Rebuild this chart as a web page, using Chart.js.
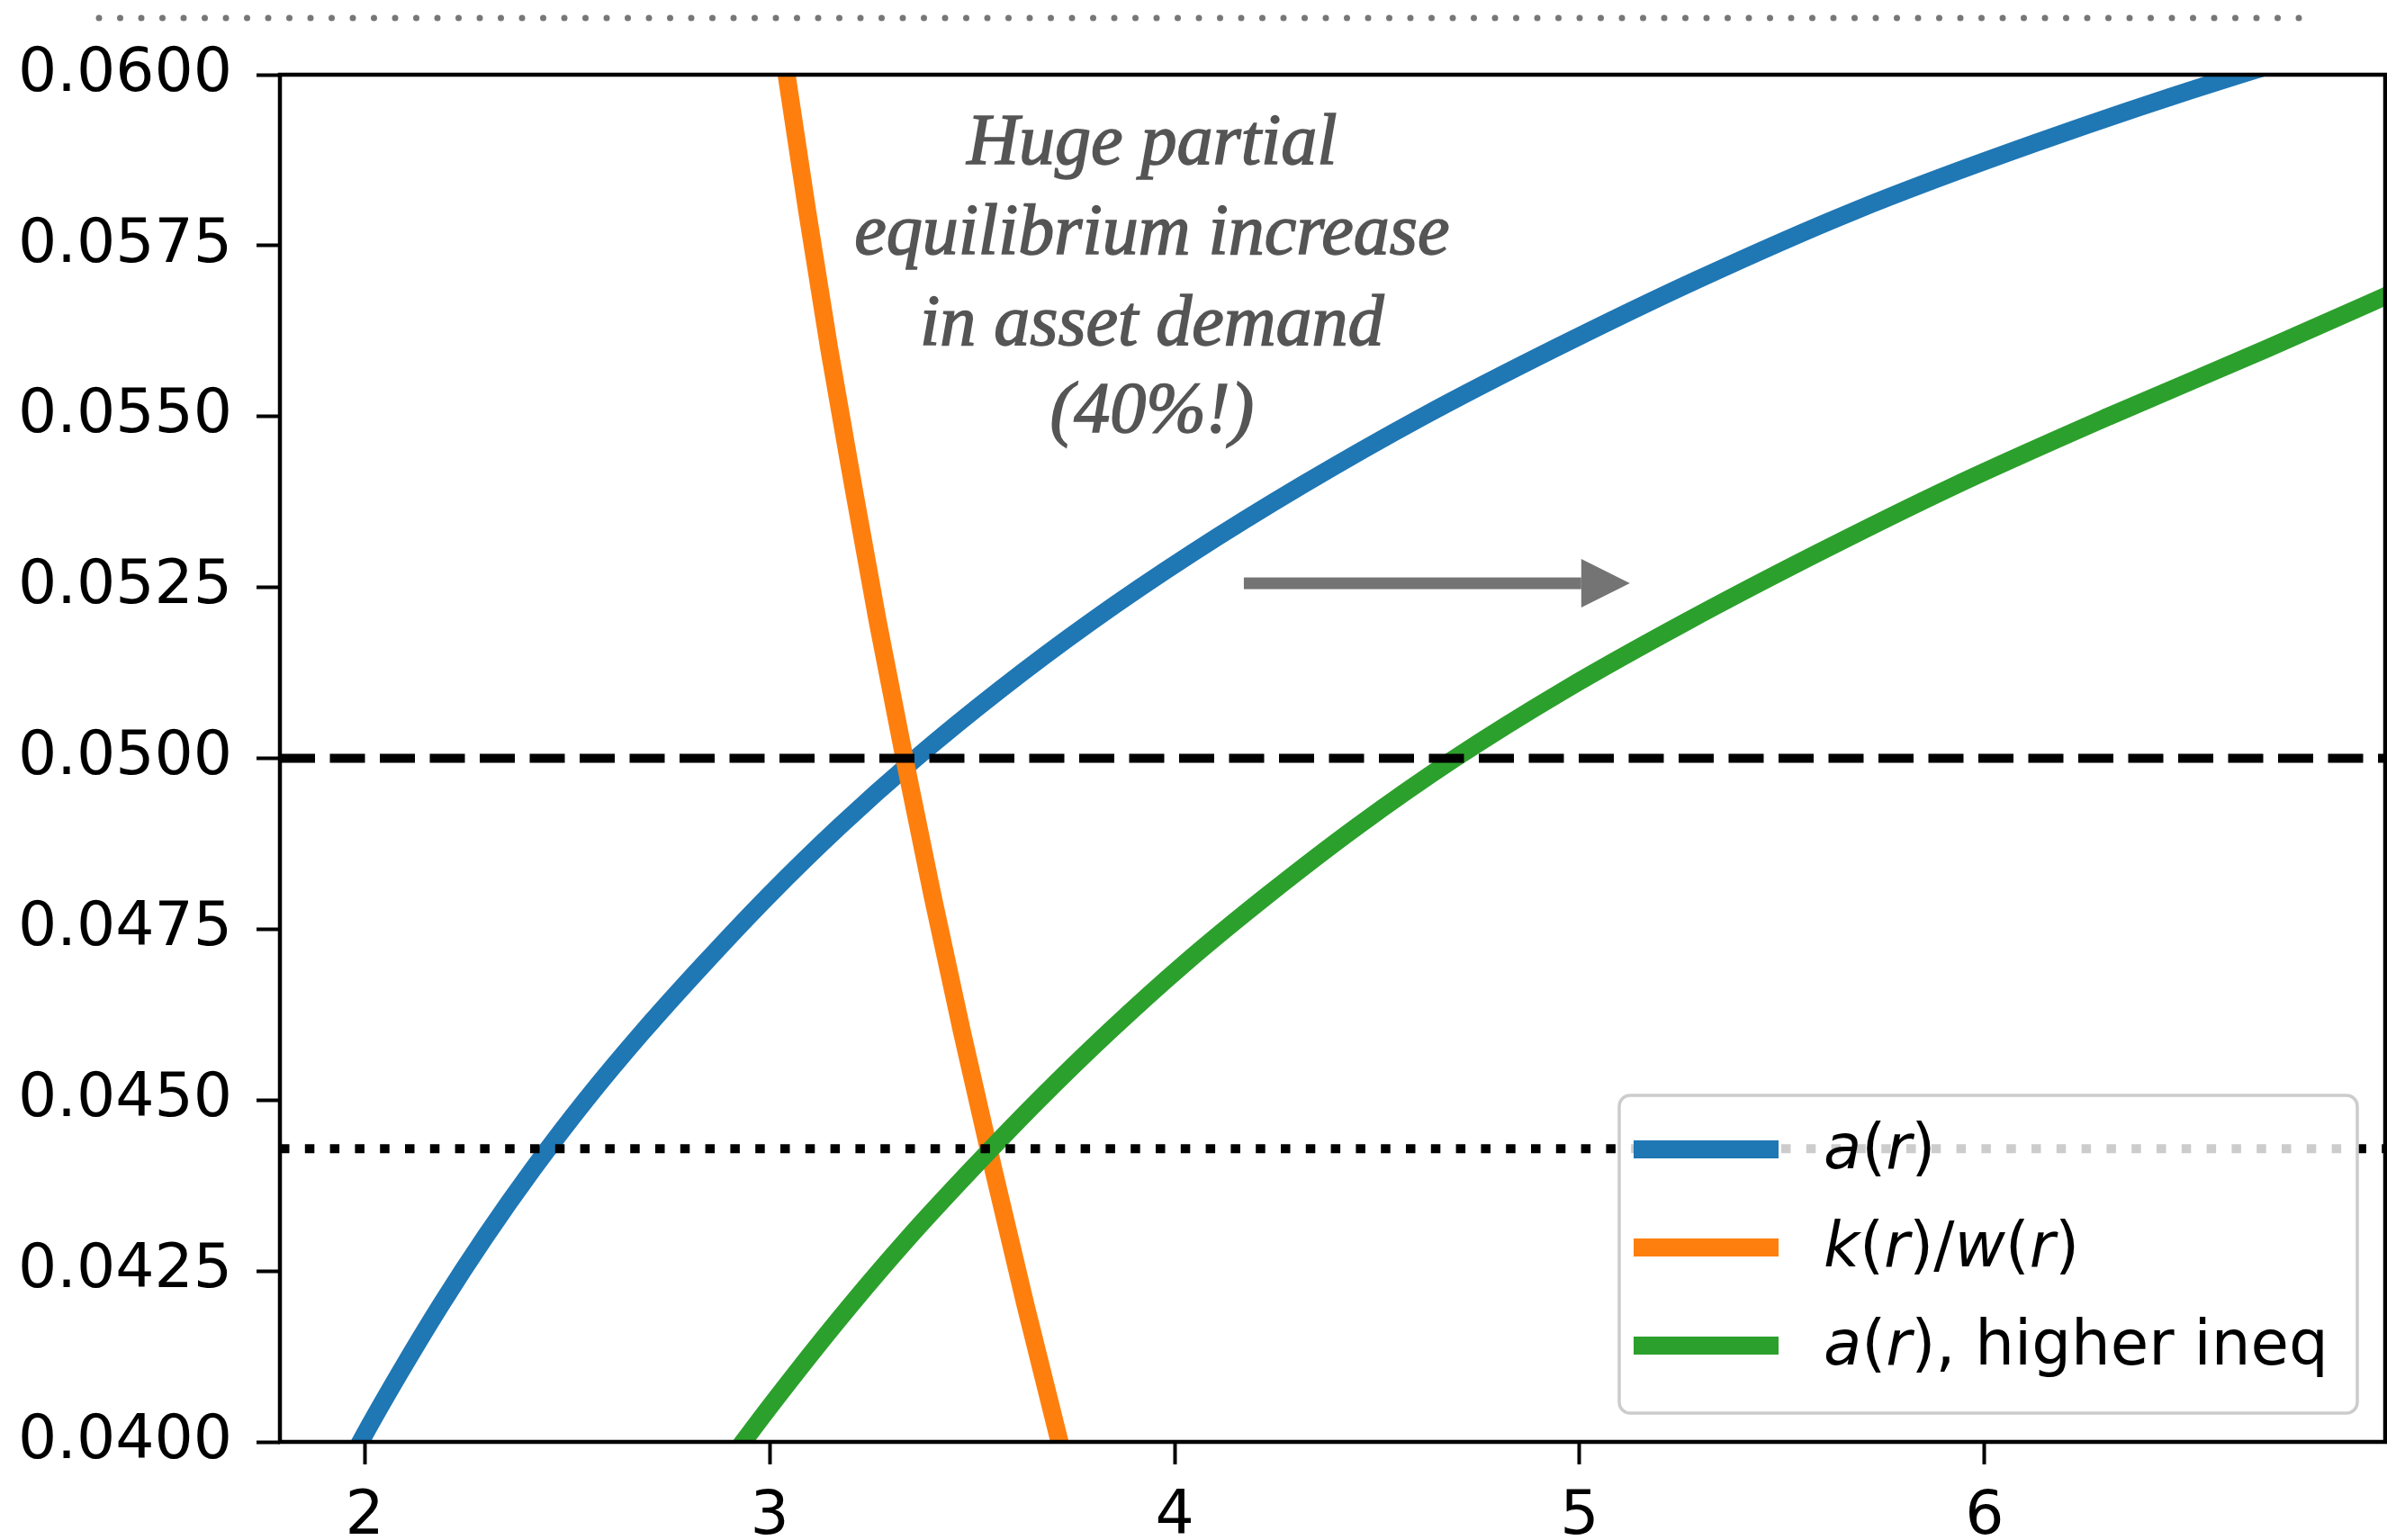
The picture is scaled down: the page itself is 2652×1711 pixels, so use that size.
<!DOCTYPE html>
<html>
<head>
<meta charset="utf-8">
<script src="https://cdn.jsdelivr.net/npm/chart.js@4.4.1/dist/chart.umd.min.js"></script>
<style>
  html, body { margin: 0; padding: 0; background: #fff; }
  #wrap { position: relative; width: 2652px; height: 1711px; }
</style>
</head>
<body>
<div id="wrap"><canvas id="chart"></canvas></div>
<script>
// --- Data: x = assets a, y = interest rate r ---
// a(r), baseline
const rBase = [0.039, 0.040, 0.041, 0.042, 0.043, 0.044, 0.045, 0.046, 0.047, 0.048, 0.049, 0.050,
               0.051, 0.052, 0.053, 0.054, 0.055, 0.056, 0.057, 0.058, 0.059, 0.060, 0.061];
const aBase = [1.903, 1.990, 2.086, 2.188, 2.298, 2.417, 2.546, 2.687, 2.839, 2.999, 3.172, 3.361,
               3.568, 3.794, 4.043, 4.316, 4.613, 4.940, 5.290, 5.675, 6.125, 6.630, 7.213];

// k(r)/w(r)
const rKW = [0.061, 0.060, 0.058, 0.056, 0.054, 0.052, 0.050, 0.048, 0.046, 0.044, 0.042, 0.040, 0.039];
const aKW = [3.018, 3.042, 3.093, 3.147, 3.206, 3.267, 3.333, 3.402, 3.475, 3.552, 3.632, 3.716, 3.759];

// a(r), higher inequality
const rIneq = [0.039, 0.040, 0.041, 0.042, 0.043, 0.044, 0.045, 0.046, 0.047, 0.048,
               0.049, 0.050, 0.051, 0.052, 0.053, 0.054, 0.055, 0.056, 0.057];
const aIneq = [2.816, 2.935, 3.064, 3.200, 3.345, 3.501, 3.664, 3.838, 4.025, 4.230,
               4.450, 4.692, 4.963, 5.264, 5.587, 5.930, 6.306, 6.700, 7.080];

const rTarget = 0.05;     // dashed line
const rNewEq = 0.04429;   // dotted line

const xRange = [1.791, 6.989];
const yRange = [0.04, 0.06];
const xTicks = [2, 3, 4, 5, 6];
const yTicks = [0.04, 0.0425, 0.045, 0.0475, 0.05, 0.0525, 0.055, 0.0575, 0.06];

const seriesLabels = ["$a(r)$", "$k(r)/w(r)$", "$a(r)$, higher ineq"];
const seriesColors = ["#1f77b4", "#ff7f0e", "#2ca02c"];

const noteLines = ["Huge partial", "equilibrium increase", "in asset demand", "(40%!)"];

// --- annotation placement (data coords) ---
const note = { x: 3.944, y: [0.0587, 0.05738, 0.05605, 0.05477] };
const arrow = { from: 4.171, to: 5.124, y: 0.05256 };

const FONT = '"DejaVu Sans", sans-serif';

function pts(xs, ys) {
  return xs.map((v, i) => ({ x: v, y: ys[i] }));
}

// draw "$a(r)$, text" with math letters in italic
function drawRich(c, label, x, y, size) {
  const parts = label.split("$");
  parts.forEach((part, i) => {
    const math = i % 2 === 1;
    for (const ch of part) {
      const ital = math && /[a-zA-Z]/.test(ch);
      c.font = (ital ? "italic " : "") + size + "px " + FONT;
      c.fillText(ch, x, y);
      x += c.measureText(ch).width;
    }
  });
}

const decor = {
  id: "decor",
  beforeDraw(chart) {
    const c = chart.ctx;
    c.save();
    c.strokeStyle = "#777";
    c.lineWidth = 7;
    c.lineCap = "round";
    c.setLineDash([0, 23.5]);
    c.beginPath();
    c.moveTo(110, 20);
    c.lineTo(2563, 20);
    c.stroke();
    c.restore();
  },
  afterDatasetsDraw(chart) {
    const { ctx: c, chartArea: ca, scales: { x, y } } = chart;
    c.save();

    // frame
    c.strokeStyle = "#000";
    c.lineWidth = 4.5;
    c.strokeRect(ca.left, ca.top, ca.right - ca.left, ca.bottom - ca.top);

    // note text
    c.fillStyle = "#555555";
    c.strokeStyle = "#555555";
    c.lineWidth = 1.6;
    c.font = 'italic 80px "Liberation Serif", serif';
    c.textAlign = "center";
    c.textBaseline = "alphabetic";
    noteLines.forEach((t, i) => {
      const px = x.getPixelForValue(note.x), py = y.getPixelForValue(note.y[i]);
      c.fillText(t, px, py);
      c.strokeText(t, px, py);
    });

    // arrow
    const x0 = x.getPixelForValue(arrow.from);
    const x1 = x.getPixelForValue(arrow.to);
    const ay = y.getPixelForValue(arrow.y);
    c.fillStyle = "#737473";
    c.fillRect(x0, ay - 6.5, (x1 - 54) - x0, 13);
    c.beginPath();
    c.moveTo(x1 - 54, ay - 27);
    c.lineTo(x1, ay);
    c.lineTo(x1 - 54, ay + 27);
    c.closePath();
    c.fill();

    // legend (lower right)
    const w = 820, h = 353;
    const lx = ca.right - 31 - w;
    const ly = ca.bottom - 32 - h;
    c.beginPath();
    c.roundRect(lx, ly, w, h, 12);
    c.fillStyle = "rgba(255,255,255,0.8)";
    c.fill();
    c.strokeStyle = "#cccccc";
    c.lineWidth = 3.5;
    c.stroke();

    c.textAlign = "left";
    c.textBaseline = "middle";
    seriesLabels.forEach((lab, i) => {
      const ry = ly + 60 + i * 109;
      c.strokeStyle = seriesColors[i];
      c.lineWidth = 20;
      c.beginPath();
      c.moveTo(lx + 16, ry);
      c.lineTo(lx + 177, ry);
      c.stroke();
      c.fillStyle = "#000";
      drawRich(c, lab, lx + 227, ry + 3, 69);
    });

    c.restore();
  }
};

const lineStyle = { pointRadius: 0, borderWidth: 20, fill: false, clip: 0, cubicInterpolationMode: "monotone" };

new Chart(document.getElementById("chart"), {
  type: "line",
  data: {
    datasets: [
      { data: pts(xRange, [rNewEq, rNewEq]), borderColor: "#000", borderWidth: 10, borderDash: [10.5, 17.3], pointRadius: 0, clip: 0, order: 0 },
      { data: pts(xRange, [rTarget, rTarget]), borderColor: "#000", borderWidth: 10, borderDash: [39, 16.5], pointRadius: 0, clip: 0, order: 1 },
      { ...lineStyle, label: seriesLabels[2], data: pts(aIneq, rIneq), borderColor: seriesColors[2], order: 2 },
      { ...lineStyle, label: seriesLabels[1], data: pts(aKW, rKW), borderColor: seriesColors[1], order: 3 },
      { ...lineStyle, label: seriesLabels[0], data: pts(aBase, rBase), borderColor: seriesColors[0], order: 4 }
    ]
  },
  options: {
    responsive: true,
    maintainAspectRatio: false,
    animation: false,
    devicePixelRatio: 1,
    layout: { padding: { top: 83, right: 2, left: 0, bottom: 0 } },
    plugins: { legend: { display: false }, tooltip: { enabled: false } },
    scales: {
      x: {
        type: "linear",
        min: xRange[0],
        max: xRange[1],
        afterBuildTicks: s => { s.ticks = xTicks.map(v => ({ value: v })); },
        afterFit: s => { s.height = 109; },
        border: { display: false },
        grid: { drawOnChartArea: false, tickLength: 25, tickWidth: 4, tickColor: "#000" },
        ticks: { font: { family: FONT, size: 68 }, color: "#000", padding: 19, maxRotation: 0, autoSkip: false, callback: v => String(v) }
      },
      y: {
        type: "linear",
        min: yRange[0],
        max: yRange[1],
        afterBuildTicks: s => { s.ticks = yTicks.map(v => ({ value: v })); },
        afterFit: s => { s.width = 311; },
        border: { display: false },
        grid: { drawOnChartArea: false, tickLength: 26, tickWidth: 4, tickColor: "#000" },
        ticks: { font: { family: FONT, size: 68 }, color: "#000", padding: 27, autoSkip: false, callback: v => v.toFixed(4) }
      }
    }
  },
  plugins: [decor]
});
</script>
</body>
</html>
